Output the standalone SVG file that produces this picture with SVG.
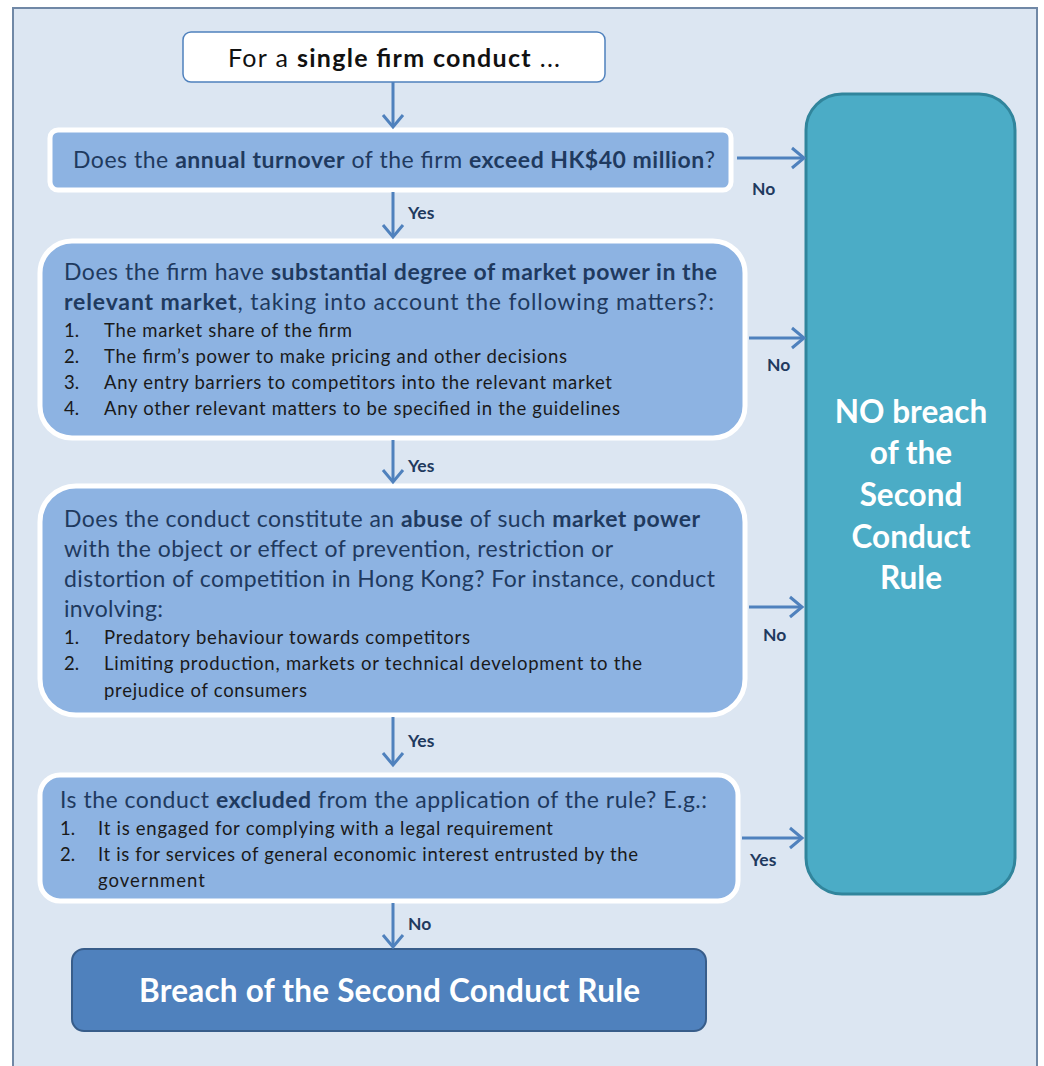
<svg xmlns="http://www.w3.org/2000/svg" width="1044" height="1066" viewBox="0 0 1044 1066">
<defs>
<style>
text{font-family:Lato,"Open Sans","Liberation Sans",sans-serif}
.q{font-size:23px;fill:#1f3a5f}
.b{font-weight:bold}
.li{font-size:18.5px;fill:#1a1a1a}
.lbl{font-size:17.5px;font-weight:bold;fill:#1f3a5f}
.qbox{fill:#8db3e2;stroke:#ffffff;stroke-width:5}
.conn{stroke:#4f81bd;stroke-width:3;fill:none;marker-end:url(#ah)}
.big{font-size:31.5px;font-weight:bold;fill:#ffffff}
</style>
<marker id="ah" markerUnits="userSpaceOnUse" viewBox="-16 -14 20 28" markerWidth="20" markerHeight="28" refX="0" refY="0" orient="auto">
<path d="M-12,-10 L0,0 L-12,10" fill="none" stroke="#4f81bd" stroke-width="3"/>
</marker>
</defs>
<rect x="13" y="8" width="1024" height="1070" fill="#dce6f2" stroke="#7088a6" stroke-width="2"/>

<g id="start">
<rect x="183" y="32" width="422" height="50" rx="8" fill="#ffffff" stroke="#4f81bd" stroke-width="1.5"/>
<text x="228" y="67" font-size="25" fill="#111" textLength="332" lengthAdjust="spacing">For a <tspan class="b">single firm conduct</tspan> ...</text>
</g>

<g id="q1">
<rect class="qbox" x="50" y="130" width="681" height="60" rx="8"/>
<text class="q" x="73" y="168" textLength="642" lengthAdjust="spacing">Does the <tspan class="b">annual turnover</tspan> of the firm <tspan class="b">exceed HK$40 million</tspan>?</text>
</g>

<g id="q2">
<rect class="qbox" x="40" y="241" width="705" height="197" rx="32"/>
<text class="q" x="64" y="280" textLength="653" lengthAdjust="spacing">Does the firm have <tspan class="b">substantial degree of market power in the</tspan></text>
<text class="q" x="64" y="310" textLength="650" lengthAdjust="spacing"><tspan class="b">relevant market</tspan>, taking into account the following matters?:</text>
<text class="li" x="64" y="337">1.</text><text class="li" x="104" y="337" textLength="248" lengthAdjust="spacing">The market share of the firm</text>
<text class="li" x="64" y="363">2.</text><text class="li" x="104" y="363" textLength="463" lengthAdjust="spacing">The firm’s power to make pricing and other decisions</text>
<text class="li" x="64" y="389">3.</text><text class="li" x="104" y="389" textLength="508" lengthAdjust="spacing">Any entry barriers to competitors into the relevant market</text>
<text class="li" x="64" y="415">4.</text><text class="li" x="104" y="415" textLength="516" lengthAdjust="spacing">Any other relevant matters to be specified in the guidelines</text>
</g>

<g id="q3">
<rect class="qbox" x="40" y="486" width="705" height="229" rx="36"/>
<text class="q" x="64" y="527" textLength="636" lengthAdjust="spacing">Does the conduct constitute an <tspan class="b">abuse</tspan> of such <tspan class="b">market power</tspan></text>
<text class="q" x="64" y="557" textLength="549" lengthAdjust="spacing">with the object or effect of prevention, restriction or</text>
<text class="q" x="64" y="587" textLength="651" lengthAdjust="spacing">distortion of competition in Hong Kong? For instance, conduct</text>
<text class="q" x="64" y="617" textLength="99" lengthAdjust="spacing">involving:</text>
<text class="li" x="64" y="644">1.</text><text class="li" x="104" y="644" textLength="366" lengthAdjust="spacing">Predatory behaviour towards competitors</text>
<text class="li" x="64" y="670">2.</text><text class="li" x="104" y="670" textLength="538" lengthAdjust="spacing">Limiting production, markets or technical development to the</text>
<text class="li" x="104" y="697" textLength="203" lengthAdjust="spacing">prejudice of consumers</text>
</g>

<g id="q4">
<rect class="qbox" x="40" y="775" width="698" height="126" rx="20"/>
<text class="q" x="60" y="808" textLength="647" lengthAdjust="spacing">Is the conduct <tspan class="b">excluded</tspan> from the application of the rule? E.g.:</text>
<text class="li" x="60" y="835">1.</text><text class="li" x="98" y="835" textLength="455" lengthAdjust="spacing">It is engaged for complying with a legal requirement</text>
<text class="li" x="60" y="861">2.</text><text class="li" x="98" y="861" textLength="540" lengthAdjust="spacing">It is for services of general economic interest entrusted by the</text>
<text class="li" x="98" y="887" textLength="107" lengthAdjust="spacing">government</text>
</g>

<g id="nobreach">
<rect x="806" y="94" width="209" height="800" rx="36" fill="#4bacc6" stroke="#31859c" stroke-width="3"/>
<text class="big" x="911" y="423" text-anchor="middle">NO breach</text>
<text class="big" x="911" y="464" text-anchor="middle">of the</text>
<text class="big" x="911" y="506" text-anchor="middle">Second</text>
<text class="big" x="911" y="548" text-anchor="middle">Conduct</text>
<text class="big" x="911" y="589" text-anchor="middle">Rule</text>
</g>

<g id="breach">
<rect x="72" y="949" width="634" height="82" rx="12" fill="#4f81bd" stroke="#385d8a" stroke-width="2"/>
<text x="139" y="1002" font-size="31.5" font-weight="bold" fill="#ffffff" textLength="501" lengthAdjust="spacing">Breach of the Second Conduct Rule</text>
</g>

<g id="connectors">
<line class="conn" x1="393" y1="82" x2="393" y2="127"/>
<line class="conn" x1="393" y1="192" x2="393" y2="237"/>
<line class="conn" x1="393" y1="440" x2="393" y2="482"/>
<line class="conn" x1="393" y1="717" x2="393" y2="765"/>
<line class="conn" x1="393" y1="903" x2="393" y2="947"/>
<line class="conn" x1="737" y1="158" x2="804" y2="158"/>
<line class="conn" x1="749" y1="338" x2="804" y2="338"/>
<line class="conn" x1="749" y1="607" x2="802" y2="607"/>
<line class="conn" x1="742" y1="838" x2="802" y2="838"/>
<text class="lbl" x="408" y="219">Yes</text>
<text class="lbl" x="408" y="472">Yes</text>
<text class="lbl" x="408" y="747">Yes</text>
<text class="lbl" x="408" y="930">No</text>
<text class="lbl" x="752" y="195">No</text>
<text class="lbl" x="767" y="371">No</text>
<text class="lbl" x="763" y="641">No</text>
<text class="lbl" x="750" y="866">Yes</text>
</g>
</svg>
